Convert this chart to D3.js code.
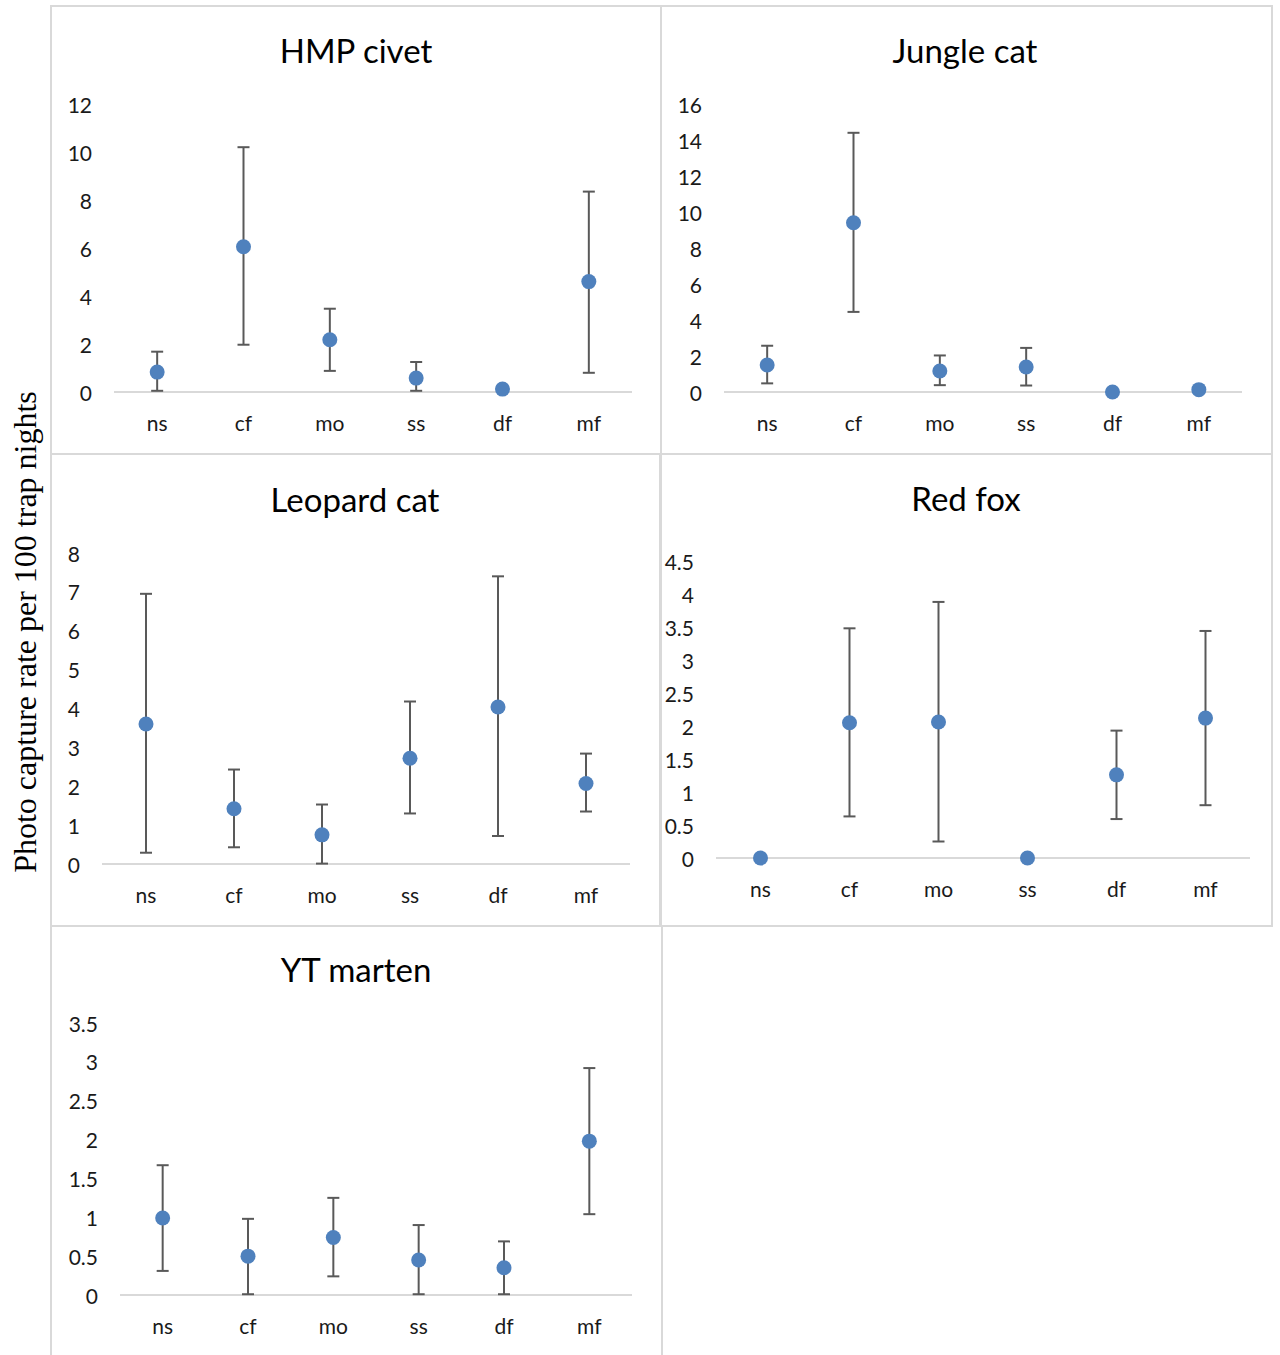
<!DOCTYPE html>
<html lang="en">
<head>
  <meta charset="UTF-8">
  <title>Photo capture rate by habitat</title>
  <script src="https://d3js.org/d3.v7.min.js"></script>
  <style>
    body {
      margin: 0;
      background-color: #ffffff;
    }
    .panel-border {
      fill: none;
      stroke: #d9d9d9;
      stroke-width: 2;
    }
    .title {
      font-family: Lato, "Open Sans", sans-serif;
      font-size: 33px;
      fill: #000000;
    }
    .tick-label {
      font-family: Lato, "Open Sans", sans-serif;
      font-size: 21px;
      fill: #1a1a1a;
    }
    .baseline {
      stroke: #d9d9d9;
      stroke-width: 2;
    }
    .err {
      stroke: #595959;
      stroke-width: 2;
    }
    .dot {
      fill: #4f81bd;
    }
    .y-title {
      font-family: "Liberation Serif", "Times New Roman", serif;
      font-size: 32px;
      fill: #000000;
    }
  </style>
</head>
<body>
  <svg id="chart"></svg>
  <script>
    const categories = ["ns", "cf", "mo", "ss", "df", "mf"];

    const species = ["HMP civet", "Jungle cat", "Leopard cat", "Red fox", "YT marten"];

    // mean, lower and upper end of the error bar, per habitat
    const civetMean  = [0.83, 6.05, 2.18, 0.58, 0.12, 4.6];
    const civetLow   = [0.05, 1.97, 0.88, 0.05, 0.12, 0.8];
    const civetHigh  = [1.68, 10.2, 3.47, 1.25, 0.12, 8.35];

    const jungleMean = [1.5, 9.4, 1.17, 1.39, 0, 0.13];
    const jungleLow  = [0.48, 4.45, 0.38, 0.36, 0, 0.13];
    const jungleHigh = [2.57, 14.4, 2.03, 2.45, 0, 0.13];

    const leopardMean = [3.6, 1.42, 0.75, 2.72, 4.04, 2.07];
    const leopardLow  = [0.29, 0.43, 0.01, 1.3, 0.72, 1.35];
    const leopardHigh = [6.95, 2.43, 1.53, 4.18, 7.4, 2.84];

    const foxMean = [0, 2.05, 2.06, 0, 1.26, 2.12];
    const foxLow  = [0, 0.63, 0.25, 0, 0.59, 0.8];
    const foxHigh = [0, 3.48, 3.88, 0, 1.93, 3.44];

    const martenMean = [0.99, 0.5, 0.74, 0.45, 0.35, 1.98];
    const martenLow  = [0.31, 0.01, 0.24, 0.01, 0.01, 1.04];
    const martenHigh = [1.67, 0.98, 1.25, 0.9, 0.69, 2.92];

    const yMax  = [12, 16, 8, 4.5, 3.5];
    const yStep = [2, 2, 1, 0.5, 0.5];

    const means = [civetMean, jungleMean, leopardMean, foxMean, martenMean];
    const lows  = [civetLow, jungleLow, leopardLow, foxLow, martenLow];
    const highs = [civetHigh, jungleHigh, leopardHigh, foxHigh, martenHigh];

    // panel frames and plot areas, in page pixels
    const panels = [
      { x0: 51,  y0: 6,   x1: 661,  y1: 454,  left: 114, right: 632,  top: 104, bottom: 392,  labelX: 92,  titleX: 356, titleY: 50 },
      { x0: 661, y0: 6,   x1: 1272, y1: 454,  left: 724, right: 1242, top: 104, bottom: 392,  labelX: 702, titleX: 965, titleY: 50 },
      { x0: 51,  y0: 454, x1: 660,  y1: 926,  left: 102, right: 630,  top: 553, bottom: 864,  labelX: 80,  titleX: 355, titleY: 499 },
      { x0: 661, y0: 454, x1: 1272, y1: 926,  left: 716, right: 1250, top: 561, bottom: 858,  labelX: 694, titleX: 966, titleY: 498 },
      { x0: 51,  y0: 926, x1: 662,  y1: 1362, left: 120, right: 632,  top: 1023, bottom: 1295, labelX: 98, titleX: 356, titleY: 969 }
    ];

    const svg = d3.select("#chart")
      .attr("width", 1280)
      .attr("height", 1355);

    panels.forEach((p, i) => {
      const g = svg.append("g");

      g.append("rect")
        .attr("class", "panel-border")
        .attr("x", p.x0)
        .attr("y", p.y0)
        .attr("width", p.x1 - p.x0)
        .attr("height", p.y1 - p.y0);

      g.append("text")
        .attr("class", "title")
        .attr("x", p.titleX)
        .attr("y", p.titleY)
        .attr("text-anchor", "middle")
        .attr("dominant-baseline", "central")
        .text(species[i]);

      const x = d3.scaleBand()
        .domain(categories)
        .range([p.left, p.right]);

      const y = d3.scaleLinear()
        .domain([0, yMax[i]])
        .range([p.bottom, p.top]);

      const ticks = d3.range(0, yMax[i] + yStep[i] / 2, yStep[i]);

      g.selectAll(".ytick")
        .data(ticks)
        .enter()
        .append("text")
        .attr("class", "tick-label")
        .attr("x", p.labelX)
        .attr("y", d => y(d))
        .attr("text-anchor", "end")
        .attr("dominant-baseline", "central")
        .text(d => d3.format("~g")(d));

      g.append("line")
        .attr("class", "baseline")
        .attr("x1", p.left)
        .attr("x2", p.right)
        .attr("y1", y(0))
        .attr("y2", y(0));

      g.selectAll(".xtick")
        .data(categories)
        .enter()
        .append("text")
        .attr("class", "tick-label")
        .attr("x", d => x(d) + x.bandwidth() / 2)
        .attr("y", y(0) + 30)
        .attr("text-anchor", "middle")
        .attr("dominant-baseline", "central")
        .text(d => d);

      const rows = categories.map((c, j) => ({
        cat: c,
        mean: means[i][j],
        low: lows[i][j],
        high: highs[i][j]
      }));

      const cx = d => x(d.cat) + x.bandwidth() / 2;
      const bars = rows.filter(d => d.high > d.low);

      g.selectAll(".err-v")
        .data(bars)
        .enter()
        .append("line")
        .attr("class", "err")
        .attr("x1", cx)
        .attr("x2", cx)
        .attr("y1", d => y(d.low))
        .attr("y2", d => y(d.high));

      ["low", "high"].forEach(k => {
        g.selectAll(".cap-" + k)
          .data(bars)
          .enter()
          .append("line")
          .attr("class", "err")
          .attr("x1", d => cx(d) - 6)
          .attr("x2", d => cx(d) + 6)
          .attr("y1", d => y(d[k]))
          .attr("y2", d => y(d[k]));
      });

      g.selectAll(".dot")
        .data(rows)
        .enter()
        .append("circle")
        .attr("class", "dot")
        .attr("cx", cx)
        .attr("cy", d => y(d.mean))
        .attr("r", 7.5);
    });

    svg.append("text")
      .attr("class", "y-title")
      .attr("transform", "translate(25, 632) rotate(-90)")
      .attr("text-anchor", "middle")
      .attr("dominant-baseline", "central")
      .text("Photo capture rate per 100 trap nights");
  </script>
</body>
</html>
